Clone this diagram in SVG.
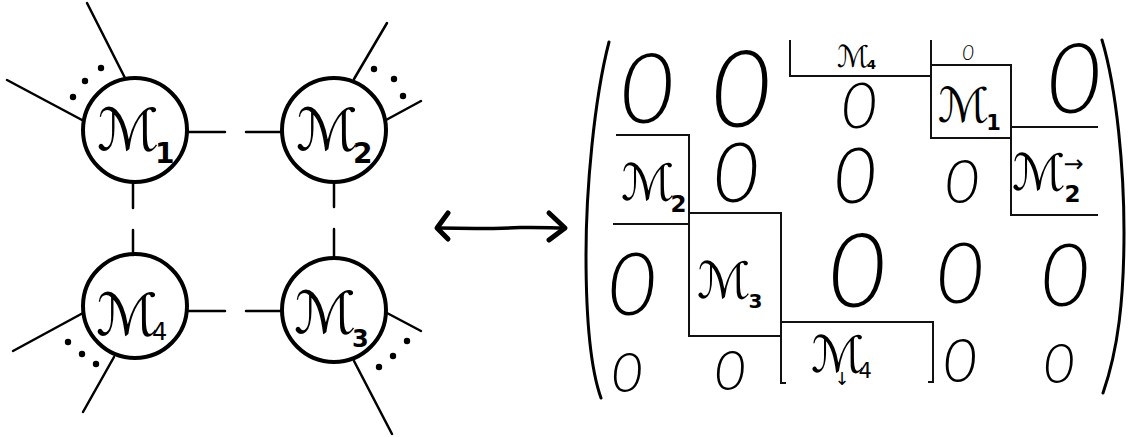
<svg xmlns="http://www.w3.org/2000/svg" width="1139" height="437" viewBox="0 0 1139 437">
<style>
.c{fill:none;stroke:#000;stroke-width:4}
.l{fill:none;stroke:#000;stroke-width:2.5;stroke-linecap:round}
.d{fill:#000}
.m{font-family:"DejaVu Sans",sans-serif;fill:#000}
.b{font-weight:bold}
.z{font-family:Lato,"Open Sans","Liberation Sans",sans-serif;font-weight:300;font-style:italic;fill:#000;text-anchor:middle}
.g{fill:none;stroke:#111;stroke-width:2}
.p{fill:none;stroke:#000;stroke-width:3;stroke-linecap:round}
.ar{fill:none;stroke:#000;stroke-width:5;stroke-linecap:round;stroke-linejoin:round}
</style>
<rect width="1139" height="437" fill="#fff"/>
<g id="node-M1">
<line class="l" x1="87" y1="3" x2="125" y2="78"/>
<line class="l" x1="7" y1="80" x2="82" y2="120"/>
<circle class="d" cx="73" cy="97" r="3.2"/><circle class="d" cx="85" cy="81" r="3.2"/><circle class="d" cx="101" cy="68" r="3.2"/>
<circle class="c" cx="135" cy="130" r="52"/>
<text class="m" x="97" y="150" font-size="58">ℳ<tspan class="b" dx="-4" dy="13" font-size="28">1</tspan></text>
</g>
<g id="node-M2">
<line class="l" x1="354" y1="79" x2="387" y2="23"/>
<line class="l" x1="386" y1="120" x2="421" y2="101"/>
<circle class="d" cx="374" cy="69" r="3.2"/><circle class="d" cx="394" cy="79" r="3.2"/><circle class="d" cx="403" cy="96" r="3.2"/>
<circle class="c" cx="334" cy="130" r="52"/>
<text class="m" x="296" y="150" font-size="58">ℳ<tspan class="b" dx="-5" dy="13" font-size="28">2</tspan></text>
</g>
<g id="node-M4">
<line class="l" x1="83" y1="313" x2="13" y2="351"/>
<line class="l" x1="114" y1="357" x2="83" y2="412"/>
<circle class="d" cx="68" cy="342" r="3.2"/><circle class="d" cx="82" cy="354" r="3.2"/><circle class="d" cx="96" cy="364" r="3.2"/>
<circle class="c" cx="135" cy="306" r="52"/>
<text class="m" x="96" y="335" font-size="58">ℳ<tspan dx="-6" dy="5" font-size="24">4</tspan></text>
</g>
<g id="node-M3">
<line class="l" x1="387" y1="313" x2="421" y2="331"/>
<line class="l" x1="354" y1="361" x2="392" y2="434"/>
<circle class="d" cx="379" cy="367" r="3.2"/><circle class="d" cx="393" cy="356" r="3.2"/><circle class="d" cx="407" cy="341" r="3.2"/>
<circle class="c" cx="334" cy="310" r="52"/>
<text class="m" x="294" y="333" font-size="58">ℳ<tspan class="b" dx="-4" dy="14" font-size="24">3</tspan></text>
</g>
<g id="connectors">
<line class="l" x1="188" y1="132" x2="225" y2="132"/>
<line class="l" x1="246" y1="132" x2="282" y2="132"/>
<line class="l" x1="133" y1="183" x2="133" y2="208"/>
<line class="l" x1="133" y1="230" x2="133" y2="255"/>
<line class="l" x1="334" y1="183" x2="334" y2="207"/>
<line class="l" x1="334" y1="229" x2="334" y2="258"/>
<line class="l" x1="188" y1="311" x2="225" y2="311"/>
<line class="l" x1="246" y1="311" x2="282" y2="311"/>
<path d="M438,228 C480,229 500,228.5 520,227.5 C540,227 552,228 564,228" fill="none" stroke="#000" stroke-width="3.5" stroke-linecap="round"/>
<polyline class="ar" points="448,213 437,228 448,239"/>
<polyline class="ar" points="549,213 565,228 549,240"/>
</g>
<g id="matrix">
<path class="p" d="M609,42 C594,100 586,190 586,255 C586,320 591,370 601,398"/>
<path class="p" d="M1102,40 C1117,90 1124,170 1124,232 C1124,300 1118,350 1103,393"/>
<path class="g" d="M790,40 V76 H931 M931,40 V138 H1011 V65 H931 M1011,127 H1098 M1011,138 V215 H1098"/>
<path class="g" d="M616,135 H689 V336 H781 M613,224 H689 M689,213 H781 V383 H786 M782,322 H933 V382 H928"/>
<text class="m" x="837" y="67" font-size="30">ℳ<tspan class="b" dx="-2" dy="2" font-size="13">4</tspan></text>
<text class="m" x="938" y="122" font-size="48">ℳ<tspan class="b" dx="-3" dy="8" font-size="21">1</tspan></text>
<text class="m" x="621" y="200" font-size="50">ℳ<tspan class="b" dx="-4" dy="12" font-size="23">2</tspan></text>
<text class="m" x="1012" y="190" font-size="50">ℳ<tspan dx="-2" dy="-18" font-size="24">→</tspan><tspan class="b" dx="-19" dy="30" font-size="23">2</tspan></text>
<text class="m" x="697" y="298" font-size="50">ℳ<tspan class="b" dx="-2" dy="10" font-size="20">3</tspan></text>
<text class="m" x="811" y="372" font-size="50">ℳ<tspan dx="-30" dy="13" font-size="18">↓</tspan><tspan dx="9" dy="-7" font-size="21">4</tspan></text>
<text class="z" x="647" y="123" font-size="97">0</text>
<text class="z" x="741" y="127" font-size="107">0</text>
<text class="z" x="859" y="128" font-size="64">0</text>
<text class="z" x="968" y="60" font-size="21" font-weight="bold">0</text>
<text class="z" x="1074" y="113" font-size="97">0</text>
<text class="z" x="736" y="202" font-size="82">0</text>
<text class="z" x="855" y="203" font-size="76">0</text>
<text class="z" x="962" y="203" font-size="62">0</text>
<text class="z" x="632" y="315" font-size="87">0</text>
<text class="z" x="857" y="307" font-size="103">0</text>
<text class="z" x="960" y="303" font-size="85">0</text>
<text class="z" x="1065" y="306" font-size="87">0</text>
<text class="z" x="627" y="392" font-size="56">0</text>
<text class="z" x="730" y="390" font-size="56">0</text>
<text class="z" x="960" y="382" font-size="61">0</text>
<text class="z" x="1059" y="383" font-size="56">0</text>
</g>
</svg>
